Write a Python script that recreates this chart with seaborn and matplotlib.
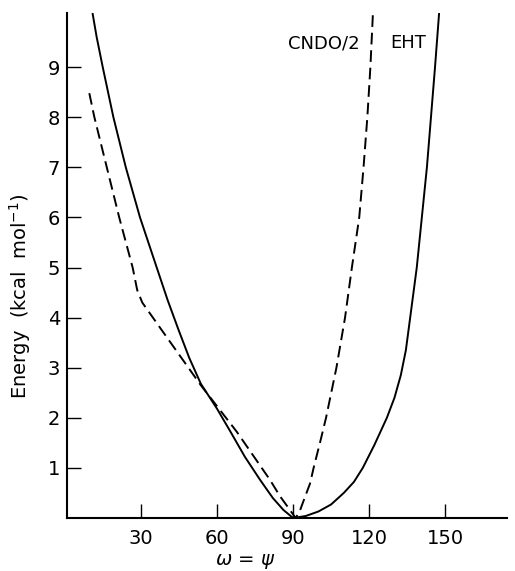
import matplotlib
matplotlib.use('Agg')
import matplotlib.pyplot as plt
import seaborn as sns
import pandas as pd

# EHT curve (solid)
eht_left_x = [10.9, 12.5, 14.9, 19.1, 24.0, 29.6, 36.2, 40.5, 44.7, 49.0, 53.6, 60.0, 65.1, 71.0, 77.0, 82.0, 86.2, 90.0]
eht_left_y = [10.07, 9.6, 9.0, 8.0, 7.0, 6.0, 5.0, 4.35, 3.77, 3.2, 2.68, 2.18, 1.74, 1.22, 0.76, 0.40, 0.16, 0.0]
eht_right_x = [95.0, 100.0, 105.0, 110.0, 114.0, 117.5, 122.0, 127.0, 130.0, 132.5, 134.5,
               136.2, 138.8, 140.8, 142.8, 144.4, 146.0, 147.6]
eht_right_y = [0.04, 0.13, 0.27, 0.50, 0.72, 1.0, 1.45, 2.0, 2.4, 2.85, 3.35,
               4.0, 5.0, 6.0, 7.0, 8.0, 9.0, 10.07]

# CNDO/2 curve (dashed)
cndo_left_x = [9.6, 11.6, 16.5, 21.4, 26.7, 28.5, 30.5, 40.0, 53.6, 67.8, 80.9, 84.9, 88.2, 91.0]
cndo_left_y = [8.48, 8.0, 7.0, 6.0, 5.0, 4.55, 4.3, 3.62, 2.65, 1.72, 0.76, 0.43, 0.2, 0.0]
cndo_right_x = [92.5, 94.7, 96.7, 98.1, 100.6, 103.0, 107.1, 110.5, 113.2, 116.1, 117.8, 119.3, 120.5, 121.5]
cndo_right_y = [0.12, 0.42, 0.69, 1.0, 1.5, 2.0, 3.0, 4.0, 5.0, 6.0, 7.0, 8.0, 9.0, 10.07]

x_ticks = [30, 60, 90, 120, 150]
y_ticks = [1, 2, 3, 4, 5, 6, 7, 8, 9]

eht = pd.DataFrame({'omega': eht_left_x + eht_right_x, 'energy': eht_left_y + eht_right_y})
cndo = pd.DataFrame({'omega': cndo_left_x + cndo_right_x, 'energy': cndo_left_y + cndo_right_y})

sns.set_style("ticks")
plt.rcParams['font.family'] = ['DejaVu Sans']
plt.rcParams['mathtext.fontset'] = 'dejavusans'
for key in ['text.color', 'axes.labelcolor', 'xtick.color', 'ytick.color']:
    plt.rcParams[key] = 'black'

fig = plt.figure(figsize=(5.15, 5.71), dpi=100)
ax = fig.add_axes([67 / 515, 1 - 518 / 571, 440 / 515, 505 / 571])

sns.lineplot(data=eht, x='omega', y='energy', ax=ax, color='black', lw=1.4,
             estimator=None, sort=False)
sns.lineplot(data=cndo, x='omega', y='energy', ax=ax, color='black', lw=1.4,
             estimator=None, sort=False, linestyle=(0, (6, 3)))

ax.set_xlim(0.8, 174.4)
ax.set_ylim(0, 10.08)
ax.set_xticks(x_ticks)
ax.set_yticks(y_ticks)
ax.tick_params(direction='in', length=10, width=1.0, labelsize=14, color='black')
ax.tick_params(axis='y', pad=5)
ax.tick_params(axis='x', pad=8)
for s in ['top', 'right']:
    ax.spines[s].set_visible(False)
for s in ['left', 'bottom']:
    ax.spines[s].set_linewidth(1.5)
    ax.spines[s].set_color('black')

ax.set_xlabel(r'$\omega$ = $\psi$', fontsize=14)
ax.xaxis.set_label_coords(0.405, -0.067)
ax.set_ylabel(r'Energy  (kcal  mol$^{-1}$)', fontsize=14)
ax.yaxis.set_label_coords(-0.078, 0.44)

ax.text(88, 9.48, 'CNDO/2', fontsize=13, va='center', ha='left')
ax.text(128.3, 9.48, 'EHT', fontsize=13, va='center', ha='left')

fig.savefig('out.png', dpi=100, facecolor='white')
